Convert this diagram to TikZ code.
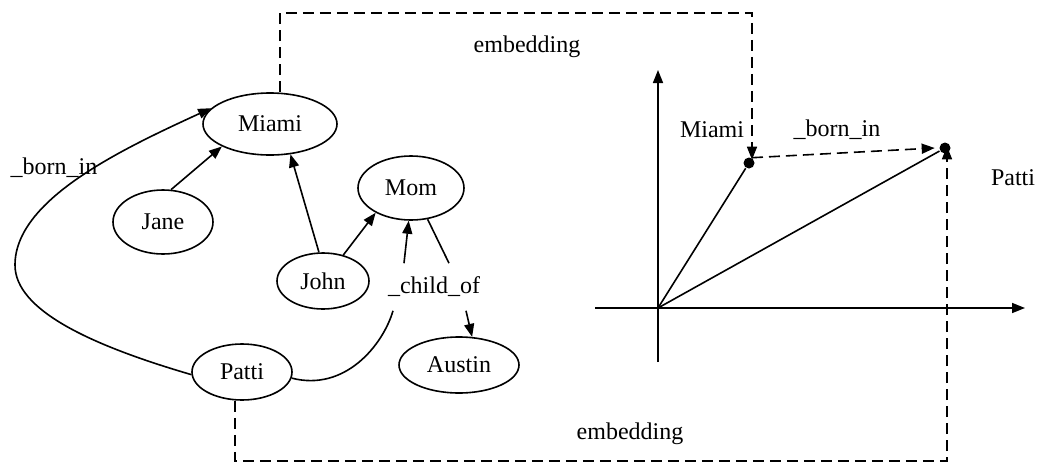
\documentclass[tikz,border=0pt]{standalone}
\usepackage{fontspec}
\setmainfont{Liberation Serif}
\usetikzlibrary{arrows.meta,shapes.geometric}
\begin{document}
\begin{tikzpicture}[x=1pt,y=-1pt,
  line width=1.6pt,
  every node/.style={font=\fontsize{24}{28}\selectfont},
  ent/.style={draw,ellipse,inner sep=0pt},
  lbl/.style={inner sep=0pt},
  arr/.style={-{Triangle[length=13pt,width=10pt]}},
  dsh/.style={dash pattern=on 11pt off 6pt},
  dot/.style={circle,fill,inner sep=0pt,minimum size=11pt}]
\useasboundingbox (0,0) rectangle (1037,469);
% graph nodes
\node[ent,minimum width=134pt,minimum height=62pt] (miami) at (270,124) {Miami};
\node[ent,minimum width=100pt,minimum height=64pt] (jane) at (163,222) {Jane};
\node[ent,minimum width=92pt,minimum height=56pt] (john) at (323,281) {John};
\node[ent,minimum width=106pt,minimum height=64pt] (mom) at (411,188) {Mom};
\node[ent,minimum width=100pt,minimum height=56pt] (patti) at (242,372) {Patti};
\node[ent,minimum width=120pt,minimum height=56pt] (austin) at (459,365) {Austin};
\node[lbl,minimum height=46pt] (child) at (434,287) {\_child\_of};
\node[lbl] (bornlbl) at (54,168) {\_born\_in};
% graph edges
\draw[arr] (jane.76) -- (miami.205);
\draw[arr] (john.98) -- (miami.304);
\draw[arr] (john.52) -- (mom.215);
\draw[arr] ([xshift=-30pt]child.north) -- (mom.266);
\draw (mom.298) -- ([xshift=15pt]child.north);
\draw[arr] ([xshift=32pt]child.south) -- (austin.65);
\draw (patti.353) .. controls (345,392) and (383,345) .. ([xshift=-41pt]child.south);
\draw[arr] (patti.183) .. controls (90,345) and (15,310) .. (15,265)
  .. controls (15,200) and (120,150) .. (miami.165);
% embedding space
\coordinate (o) at (658,308);
\coordinate (ybot) at (658,362);
\coordinate (ytop) at (658,70);
\coordinate (xl) at (595,308);
\coordinate (xr) at (1025,308);
\draw[arr] (ybot) -- (ytop);
\draw[arr] (xl) -- (xr);
\node[dot] (mp) at (749,163) {};
\node[dot] (pp) at (945,148) {};
\draw (o) -- (mp);
\draw (o) -- (pp);
\draw[arr,dsh] ([xshift=3pt,yshift=-1pt]mp.north) -- ([xshift=-4pt]pp.west);
\node[lbl] (mlbl) at (712,130) {Miami};
\node[lbl] (blbl) at (837,130) {\_born\_in};
\node[lbl] (plbl) at (1013,178) {Patti};
% embedding mappings
\coordinate (tl) at (280,13);
\coordinate (tr) at (752,13);
\draw[arr,dsh] (miami.north -| tl) -- (tl) -- (tr) -- ([xshift=3pt,yshift=-3pt]mp.north);
\coordinate (bl) at (235,461);
\coordinate (br) at (947,461);
\draw[arr,dsh] (patti.south -| bl) -- (bl) -- (br) -- ([xshift=2pt,yshift=8pt]pp.south);
\node[lbl] (emb1) at (527,47) {embedding};
\node[lbl] (emb2) at (630,434) {embedding};
\end{tikzpicture}
\end{document}
